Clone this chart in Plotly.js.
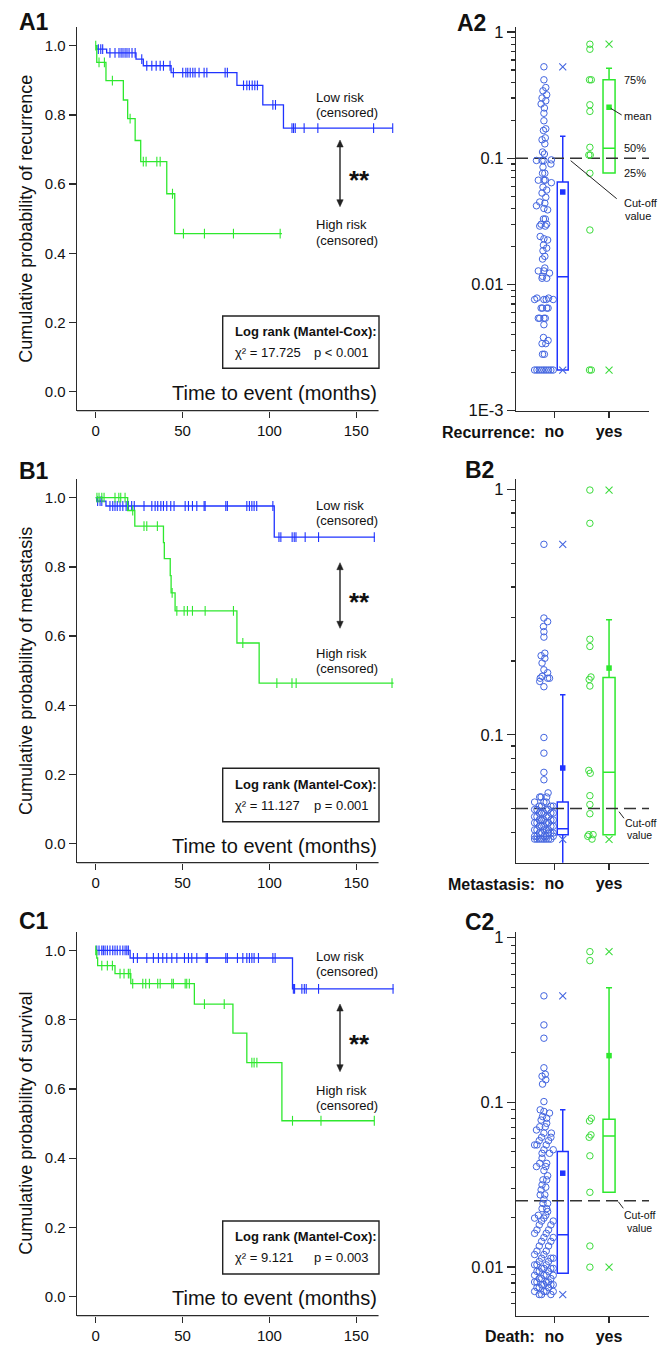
<!DOCTYPE html>
<html><head><meta charset="utf-8">
<script src="https://cdn.plot.ly/plotly-3.0.1.min.js"></script>
<style>html,body{margin:0;padding:0;background:#fff}#chart{width:669px;height:1353px}</style>
</head><body><div id="chart"></div>
<script>
// ---------------- DATA ----------------
// Kaplan-Meier step curves: event times (months) and cumulative probability after each step
const A1_low_t = [0, 0.6, 6.3, 23.2, 27.4, 43.4, 81.3, 96.2, 108.1];
const A1_low_s = [1.0, 0.990, 0.979, 0.961, 0.942, 0.922, 0.885, 0.829, 0.762];
const A1_low_end = 171;
const A1_low_cens = [1.5, 2.9, 4.0, 8.2, 11.1, 13.4, 14.6, 15.7, 16.9, 18.0, 19.2, 20.9, 22.7, 26.5, 29.4, 32.3, 34.8, 37.1, 39.0, 42.8, 44.7, 50.1, 51.9, 53.0, 54.4, 55.9, 57.2, 59.5, 62.4, 64.0, 74.5, 75.8, 85.1, 87.0, 88.5, 90.1, 91.6, 93.1, 102.0, 103.5, 113.0, 113.9, 114.9, 120.0, 127.9, 160.0, 171.0];
const A1_high_t = [0, 0.6, 5.9, 15.9, 18.4, 22.7, 25.9, 40.9, 45.5];
const A1_high_s = [1.0, 0.952, 0.899, 0.843, 0.789, 0.726, 0.665, 0.572, 0.457];
const A1_high_end = 107.2;
const A1_high_cens = [0, 1.9, 5.0, 9.6, 19.8, 27.4, 29.0, 35.2, 37.1, 44.2, 50.5, 62.6, 79.3, 106.2];

const B1_low_t = [0, 0.6, 5.9, 102.8];
const B1_low_s = [1.0, 0.990, 0.976, 0.886];
const B1_low_end = 160.8;
const B1_low_cens = [1.1, 2.5, 3.5, 8.2, 9.8, 11.1, 12.4, 14.0, 15.6, 17.5, 18.8, 20.7, 22.2, 27.8, 32.3, 34.2, 35.7, 37.5, 39.0, 40.9, 43.2, 45.1, 51.5, 53.4, 55.7, 58.2, 62.4, 63.0, 74.9, 75.8, 87.0, 88.5, 89.9, 91.2, 92.7, 102.0, 105.5, 106.6, 113.1, 114.3, 115.3, 120.6, 128.3, 160.4];
const B1_high_t = [0, 18.4, 22.5, 39.0, 39.5, 42.9, 43.4, 45.7, 81.3, 94.1];
const B1_high_s = [1.0, 0.963, 0.918, 0.870, 0.824, 0.775, 0.725, 0.673, 0.580, 0.464];
const B1_high_end = 171.5;
const B1_high_cens = [0.7, 1.9, 3.5, 4.8, 11.1, 13.3, 14.4, 16.9, 21.3, 27.8, 29.4, 35.5, 44.0, 46.7, 50.9, 52.8, 55.7, 63.0, 79.3, 84.7, 104.3, 113.0, 115.4, 170.6];

const C1_low_t = [0, 19.8, 113.3];
const C1_low_s = [1.0, 0.978, 0.889];
const C1_low_end = 171.5;
const C1_low_cens = [0.6, 1.9, 3.5, 4.4, 5.4, 6.7, 8.2, 9.8, 11.1, 12.4, 14.0, 15.6, 16.9, 17.9, 18.8, 21.7, 24.0, 29.4, 33.2, 36.1, 38.6, 40.9, 43.8, 46.7, 51.1, 53.4, 55.3, 58.2, 63.6, 64.3, 74.9, 75.8, 81.6, 84.7, 87.0, 88.5, 89.9, 91.2, 93.7, 102.0, 103.3, 113.8, 114.5, 118.7, 120.1, 121.2, 128.3, 171.2];
const C1_high_t = [0, 0.6, 1.1, 11.1, 20.2, 56.8, 79.0, 87.0, 107.2];
const C1_high_s = [1.0, 0.978, 0.956, 0.933, 0.904, 0.845, 0.761, 0.676, 0.508];
const C1_high_end = 160.4;
const C1_high_cens = [0, 3.5, 6.7, 9.6, 14.0, 16.3, 18.8, 19.8, 21.3, 27.1, 28.8, 30.9, 35.7, 37.1, 43.8, 44.7, 51.5, 52.4, 53.9, 62.6, 74.0, 89.9, 91.2, 92.8, 113.3, 129.7, 160.4];

const KM_ticks = [0, 50, 100, 150];
const P_ticks = [0, 0.2, 0.4, 0.6, 0.8, 1.0];
const P_ticktext = ['0.0', '0.2', '0.4', '0.6', '0.8', '1.0'];

// Log-rank statistics
const LR_chi = ['17.725', '11.127', '9.121'];
const LR_p = ['p &lt; 0.001', 'p = 0.001', 'p = 0.003'];
const Y_titles = ['Cumulative probability of recurrence', 'Cumulative probability of metastasis', 'Cumulative probability of survival'];
const Cat_titles = ['Recurrence:', 'Metastasis:', 'Death:'];
const Cat_labels = ['no', 'yes'];

// Scatter values (individual scores) per group
const A2_no = [0.53, 0.418, 0.363, 0.342, 0.318, 0.30, 0.285, 0.269, 0.25, 0.227, 0.198, 0.171, 0.166, 0.145, 0.14, 0.13, 0.112, 0.108, 0.096, 0.096, 0.097, 0.096, 0.09, 0.085, 0.076, 0.076, 0.067, 0.067, 0.067, 0.064, 0.059, 0.056, 0.053, 0.049, 0.045, 0.044, 0.042, 0.040, 0.039, 0.033, 0.033, 0.030, 0.030, 0.029, 0.029, 0.024, 0.023, 0.0225, 0.0205, 0.0194, 0.0185, 0.0167, 0.0159, 0.0135, 0.0128, 0.0128, 0.0123, 0.0116, 0.0112, 0.0112, 0.0078, 0.0078, 0.0076, 0.0076, 0.0076, 0.0076, 0.0065, 0.0065, 0.0065, 0.0065, 0.0054, 0.0054, 0.0054, 0.0054, 0.0048, 0.0038, 0.0036, 0.0034, 0.0034, 0.0028, 0.0028, 0.0021, 0.0021, 0.0021, 0.0021, 0.0021, 0.0021, 0.0021, 0.0021, 0.0021];
const A2_yes = [0.80, 0.73, 0.418, 0.418, 0.265, 0.235, 0.122, 0.106, 0.106, 0.076, 0.027, 0.0021, 0.0021];
const B2_no = [0.597, 0.299, 0.289, 0.276, 0.263, 0.25, 0.215, 0.21, 0.205, 0.196, 0.184, 0.179, 0.173, 0.17, 0.17, 0.17, 0.165, 0.157, 0.0975, 0.0842, 0.0703, 0.0656, 0.058, 0.0558, 0.0558, 0.0558, 0.0532, 0.0532, 0.0532, 0.0512, 0.0512, 0.0512, 0.0512, 0.0496, 0.0496, 0.0496, 0.0496, 0.048, 0.048, 0.048, 0.048, 0.048, 0.0464, 0.0464, 0.0464, 0.0464, 0.045, 0.045, 0.045, 0.045, 0.045, 0.0438, 0.0438, 0.0438, 0.0438, 0.0424, 0.0424, 0.0424, 0.0424, 0.0424, 0.041, 0.041, 0.041, 0.041, 0.041, 0.0398, 0.0398, 0.0398, 0.0398, 0.0398, 0.0386, 0.0386, 0.0386, 0.0386, 0.0386, 0.0376, 0.0376, 0.0376, 0.0376, 0.0376, 0.0376, 0.0376, 0.0376];
const B2_yes = [0.993, 0.727, 0.245, 0.229, 0.172, 0.168, 0.158, 0.0716, 0.0697, 0.0565, 0.052, 0.0477, 0.0392, 0.0392, 0.0386, 0.0376];
const C2_no = [0.443, 0.295, 0.245, 0.162, 0.148, 0.144, 0.137, 0.129, 0.101, 0.090, 0.088, 0.086, 0.082, 0.080, 0.078, 0.0745, 0.071, 0.071, 0.0679, 0.065, 0.065, 0.0613, 0.0613, 0.0585, 0.0585, 0.0551, 0.0551, 0.0551, 0.0515, 0.0515, 0.049, 0.049, 0.0458, 0.0426, 0.0426, 0.0407, 0.0407, 0.0385, 0.0358, 0.0338, 0.0338, 0.0315, 0.0305, 0.0294, 0.0274, 0.0274, 0.0258, 0.0243, 0.0243, 0.0226, 0.0226, 0.0217, 0.0206, 0.0206, 0.0198, 0.0198, 0.019, 0.019, 0.018, 0.018, 0.0168, 0.0168, 0.016, 0.016, 0.0151, 0.0151, 0.0143, 0.0143, 0.0134, 0.0134, 0.0125, 0.0125, 0.0119, 0.0119, 0.0113, 0.0113, 0.0113, 0.0108, 0.0108, 0.0103, 0.0103, 0.0103, 0.0098, 0.0098, 0.0098, 0.0098, 0.0094, 0.0094, 0.0094, 0.0089, 0.0089, 0.0089, 0.0089, 0.0085, 0.0085, 0.0085, 0.0081, 0.0081, 0.0081, 0.0081, 0.0078, 0.0078, 0.0078, 0.0078, 0.0075, 0.0075, 0.0075, 0.0071, 0.0071, 0.0071, 0.0071, 0.0068, 0.0068, 0.0068];
const C2_yes = [0.822, 0.725, 0.080, 0.077, 0.0634, 0.0613, 0.0473, 0.0284, 0.0134, 0.00997];

// Box statistics: [lowerfence, q1, median, q3, upperfence]
const A2_no_box = [0.0021, 0.0021, 0.0115, 0.0647, 0.149];
const A2_yes_box = [0.0764, 0.0764, 0.12, 0.418, 0.517];
const B2_no_box = [0.025, 0.0392, 0.0414, 0.0532, 0.1455];
const B2_yes_box = [0.0392, 0.0392, 0.0703, 0.171, 0.294];
const C2_no_box = [0.00917, 0.00917, 0.0157, 0.0502, 0.090];
const C2_yes_box = [0.0284, 0.0284, 0.0625, 0.0789, 0.497];
// Means and extremes [mean, min, max]
const A2_no_mx = [0.054, 0.0021, 0.53];
const A2_yes_mx = [0.253, 0.0021, 0.80];
const B2_no_mx = [0.0732, 0.0375, 0.597];
const B2_yes_mx = [0.187, 0.0375, 0.993];
const C2_no_mx = [0.0371, 0.0068, 0.443];
const C2_yes_mx = [0.192, 0.00997, 0.822];
// Cut-off values
const Cutoffs = [0.1, 0.0501, 0.0252];

// ---------------- LAYOUT HELPERS ----------------
const W = 669, H = 1353;
const FONT = 'Liberation Sans, Arial, Helvetica, sans-serif';
const BLUE = '#1f33ff', GREEN = '#2ee82e', BLUE_PT = '#4466e0', GREEN_PT = '#3cdc3c', AXC = '#2b2b2b', TXT = '#111';
const px = v => v / W;
const py = v => 1 - v / H;

const rows = [[py(410.7), py(27)], [py(862.7), py(479)], [py(1315.7), py(931.7)]];
const rowPx = [[27, 410.7], [479, 862.7], [931.7, 1315.7]];
const logRanges = [[-3, 0.0395], [-1.521, 0.042], [-2.296, 0.036]];
const KMX = [-10.78, 175.2], KMX_END = 162.85;
const CATX = [-0.7, 1.73];

function survAt(t, s, tc) { let v = s[0]; for (let i = 0; i < t.length; i++) if (t[i] <= tc) v = s[i]; return v; }

const traces = [];
function km(t, s, end, cens, color, xa, ya) {
  traces.push({type: 'scatter', mode: 'lines', x: t.concat([end]), y: s.concat([s[s.length - 1]]), xaxis: xa, yaxis: ya,
    line: {color: color, width: 1.3, shape: 'hv'}, hoverinfo: 'skip'});
  traces.push({type: 'scatter', mode: 'markers', x: cens, y: cens.map(c => survAt(t, s, c)), xaxis: xa, yaxis: ya,
    marker: {symbol: 'line-ns-open', size: 7, color: color, line: {color: color, width: 1.1}}, hoverinfo: 'skip'});
}
km(A1_low_t, A1_low_s, A1_low_end, A1_low_cens, BLUE, 'x', 'y');
km(A1_high_t, A1_high_s, A1_high_end, A1_high_cens, GREEN, 'x', 'y');
km(B1_low_t, B1_low_s, B1_low_end, B1_low_cens, BLUE, 'x3', 'y3');
km(B1_high_t, B1_high_s, B1_high_end, B1_high_cens, GREEN, 'x3', 'y3');
km(C1_low_t, C1_low_s, C1_low_end, C1_low_cens, BLUE, 'x5', 'y5');
km(C1_high_t, C1_high_s, C1_high_end, C1_high_cens, GREEN, 'x5', 'y5');

// beeswarm-like deterministic spread (wider where points crowd)
function swarm(vals, center, half, pxPerLog) {
  const L = vals.map(v => Math.log10(v));
  const thr = 5 / pxPerLog;
  return vals.map((v, i) => {
    let n = 0; L.forEach(l => { if (Math.abs(l - L[i]) < thr) n++; });
    const spread = half * Math.min(1, (n - 1) / 5);
    const pat = ((i * 4) % 9) / 8 * 2 - 1;
    return center + spread * pat;
  });
}
function catPanel(k, no, yes, noBox, yesBox, noMx, yesMx) {
  const xa = 'x' + (2 * k + 2), ya = 'y' + (2 * k + 2);
  const ppl = (rowPx[k][1] - rowPx[k][0]) / (logRanges[k][1] - logRanges[k][0]);
  const groups = [[no, noBox, noMx, BLUE, BLUE_PT, -0.19, 0.17, 0.154, 0.2], [yes, yesBox, yesMx, GREEN, GREEN_PT, 0.65, 0.13, 1.0, 0.22]];
  traces.push({type: 'scatter', mode: 'lines', x: CATX, y: [Cutoffs[k], Cutoffs[k]], xaxis: xa, yaxis: ya,
    line: {color: '#333', width: 1.5, dash: '12px,6px'}, hoverinfo: 'skip'});
  groups.forEach(g => {
    const [vals, bx, mx, lc, pc, cen, half, bpos, bw] = g;
    traces.push({type: 'scatter', mode: 'markers', x: swarm(vals, cen, half, ppl), y: vals, xaxis: xa, yaxis: ya,
      marker: {symbol: 'circle-open', size: 6.5, color: pc, line: {color: pc, width: 1}}, hoverinfo: 'skip'});
    traces.push({type: 'box', x: [bpos], lowerfence: [bx[0]], q1: [bx[1]], median: [bx[2]], q3: [bx[3]], upperfence: [bx[4]],
      width: bw, whiskerwidth: 0.5, line: {color: lc, width: 1.5}, fillcolor: 'rgba(0,0,0,0)', xaxis: xa, yaxis: ya,
      boxpoints: false, hoverinfo: 'skip'});
    traces.push({type: 'scatter', mode: 'markers', x: [bpos], y: [mx[0]], xaxis: xa, yaxis: ya,
      marker: {symbol: 'square', size: 5.5, color: lc}, hoverinfo: 'skip'});
    traces.push({type: 'scatter', mode: 'markers', x: [bpos, bpos], y: [mx[1], mx[2]], xaxis: xa, yaxis: ya,
      marker: {symbol: 'x-thin-open', size: 7, color: pc, line: {color: pc, width: 1.1}}, hoverinfo: 'skip'});
  });
}
catPanel(0, A2_no, A2_yes, A2_no_box, A2_yes_box, A2_no_mx, A2_yes_mx);
catPanel(1, B2_no, B2_yes, B2_no_box, B2_yes_box, B2_no_mx, B2_yes_mx);
catPanel(2, C2_no, C2_yes, C2_no_box, C2_yes_box, C2_no_mx, C2_yes_mx);

function minorVals(r) {
  const out = [];
  for (let e = Math.floor(r[0]); e < Math.ceil(r[1]); e++) for (let m = 2; m <= 9; m++) {
    const v = m * Math.pow(10, e); const l = Math.log10(v);
    if (l > r[0] && l < r[1]) out.push(v);
  }
  return out;
}
const logTicks = [[0.001, 0.01, 0.1, 1], [0.1, 1], [0.01, 0.1, 1]];
const logText = [['1E-3', '0.01', '0.1', '1'], ['0.1', '1'], ['0.01', '0.1', '1']];

const layout = {width: W, height: H, margin: {l: 0, r: 0, t: 0, b: 0}, paper_bgcolor: '#fff', plot_bgcolor: 'rgba(0,0,0,0)',
  showlegend: false, font: {family: FONT, color: TXT}, annotations: [], shapes: []};

for (let k = 0; k < 3; k++) {
  const n = 2 * k + 1, m = 2 * k + 2;
  const sx = n === 1 ? '' : String(n);
  layout['xaxis' + sx] = {domain: [px(77), px(400)], range: KMX, anchor: 'y' + sx, tickvals: KM_ticks, ticks: 'outside',
    ticklen: 6, tickwidth: 1.3, tickcolor: AXC, showline: false, showgrid: false, zeroline: false,
    tickfont: {family: FONT, size: 15, color: TXT}, fixedrange: true};
  layout['yaxis' + sx] = {domain: rows[k], range: [-0.055, 1.054], anchor: 'x' + sx, tickvals: P_ticks, ticktext: P_ticktext,
    ticks: 'outside', ticklen: 7, tickwidth: 1.3, tickcolor: AXC, showline: true, linecolor: AXC, linewidth: 1.3,
    showgrid: false, zeroline: false, tickfont: {family: FONT, size: 15, color: TXT}, fixedrange: true};
  layout['xaxis' + m] = {domain: [px(516), px(649)], range: CATX, anchor: 'y' + m, tickvals: [0, 1],
    ticktext: Cat_labels.map(s => '<b>' + s + '</b>'), ticks: 'outside', ticklen: 6, tickwidth: 1.3, tickcolor: AXC,
    showline: true, linecolor: AXC, linewidth: 1.3, showgrid: false, zeroline: false,
    tickfont: {family: FONT, size: 16, color: TXT}, fixedrange: true};
  layout['yaxis' + m] = {type: 'log', domain: rows[k], range: logRanges[k], anchor: 'x' + m, tickvals: logTicks[k],
    ticktext: logText[k], ticks: 'outside', ticklen: 8, tickwidth: 1.3, tickcolor: AXC, showline: true, linecolor: AXC,
    linewidth: 1.3, showgrid: false, zeroline: false, tickfont: {family: FONT, size: 16.5, color: TXT}, fixedrange: true,
    minor: {tickvals: minorVals(logRanges[k]), ticklen: 4, ticks: 'outside', tickwidth: 1.2, tickcolor: AXC, showgrid: false}};
  layout.shapes.push({type: 'line', xref: 'x' + sx, yref: 'paper', x0: KMX[0], x1: KMX_END, y0: rows[k][0], y1: rows[k][0],
    line: {color: AXC, width: 1.3}});
}

function ann(text, x, y, o) {
  layout.annotations.push(Object.assign({text: text, x: px(x), y: py(y), xref: 'paper', yref: 'paper', showarrow: false,
    xanchor: 'left', yanchor: 'middle', font: {family: FONT, size: 13, color: TXT}}, o || {}));
}
function seg(x0, y0, x1, y1, w, c) {
  layout.shapes.push({type: 'line', xref: 'paper', yref: 'paper', x0: px(x0), y0: py(y0), x1: px(x1), y1: py(y1),
    line: {color: c || '#222', width: w || 1}});
}
function tri(x, yTip, dir) {
  const b = yTip + dir * 7;
  layout.shapes.push({type: 'path', xref: 'paper', yref: 'paper',
    path: 'M ' + px(x - 3.2) + ',' + py(b) + ' L ' + px(x + 3.2) + ',' + py(b) + ' L ' + px(x) + ',' + py(yTip) + ' Z',
    fillcolor: '#222', line: {color: '#222', width: 0.5}});
}
function dblArrow(x, yTop, yBot) {
  seg(x, yTop + 4, x, yBot - 4, 1.4);
  tri(x, yTop, 1);
  tri(x, yBot, -1);
}

// Panel letters
[['A1', 17, 22], ['B1', 17, 470.7], ['C1', 17, 921.3], ['A2', 455, 22.7], ['B2', 463, 469.7], ['C2', 463, 922]]
  .forEach(p => ann('<b>' + p[0] + '</b>', p[1], p[2], {font: {family: FONT, size: 23, color: TXT}}));

// Left panels annotations
const L = [
  {low: 97.7, high: 225, star: 175.7, ar: [140, 206.7], box: [316, 368.3], l1: 331.7, l2: 352.3, xt: 392.7, yt: 218.8},
  {low: 505.7, high: 653.3, star: 598.3, ar: [562.7, 628.3], box: [768.3, 821.7], l1: 784, l2: 805.7, xt: 845.7, yt: 670.9},
  {low: 956.7, high: 1090, star: 1040, ar: [1004, 1071.7], box: [1221, 1274], l1: 1236.7, l2: 1257.3, xt: 1298.3, yt: 1123.7}
];
L.forEach((r, k) => {
  ann('Low risk', 314, r.low); ann('(censored)', 314, r.low + 15);
  ann('High risk', 314, r.high); ann('(censored)', 314, r.high + 15.5);
  ann('<b>**</b>', 359, r.star + 4, {xanchor: 'center', font: {family: FONT, size: 26, color: TXT}});
  dblArrow(340, r.ar[0], r.ar[1]);
  layout.shapes.push({type: 'rect', xref: 'paper', yref: 'paper', x0: px(222.7), x1: px(379), y0: py(r.box[0]), y1: py(r.box[1]),
    line: {color: '#222', width: 1.4}, fillcolor: 'rgba(0,0,0,0)'});
  ann('<b>Log rank (Mantel-Cox):</b>', 232.7, r.l1);
  ann('\u03C7\u00B2 = ' + LR_chi[k], 232.7, r.l2);
  ann(LR_p[k], 311.7, r.l2);
  ann('Time to event (months)', 378.5, r.xt, {xanchor: 'right', font: {family: FONT, size: 20, color: TXT}});
  ann(Y_titles[k], 26, r.yt, {xanchor: 'center', textangle: -90, font: {family: FONT, size: 18, color: TXT}});
});

// Right panel annotations
[432, 885, 1336.7].forEach((y, k) => ann('<b>' + Cat_titles[k] + '</b>', 536.7, y, {xanchor: 'right', font: {family: FONT, size: 16, color: TXT}}));
const sm = {family: FONT, size: 11, color: TXT};
ann('75%', 622, 80, {font: sm}); ann('mean', 622, 115.7, {font: sm}); ann('50%', 622, 148.3, {font: sm}); ann('25%', 622, 173.3, {font: sm});
seg(610.7, 108.3, 621.7, 115, 1);
ann('Cut-off', 621.7, 203, {font: sm}); ann('value', 622.7, 216, {font: sm});
seg(570.7, 160.7, 616.7, 198.7, 1);
const sm2 = {family: FONT, size: 10.5, color: TXT};
ann('Cut-off', 640, 823.3, {xanchor: 'center', font: sm2}); ann('value', 639, 835, {xanchor: 'center', font: sm2});
seg(619, 811.7, 624, 818.3, 1);
ann('Cut-off', 639, 1215, {xanchor: 'center', font: sm2}); ann('value', 639.5, 1228.3, {xanchor: 'center', font: sm2});
seg(618.3, 1201.7, 623.3, 1208.3, 1);

Plotly.newPlot('chart', traces, layout, {displayModeBar: false, staticPlot: true});
</script></body></html>
